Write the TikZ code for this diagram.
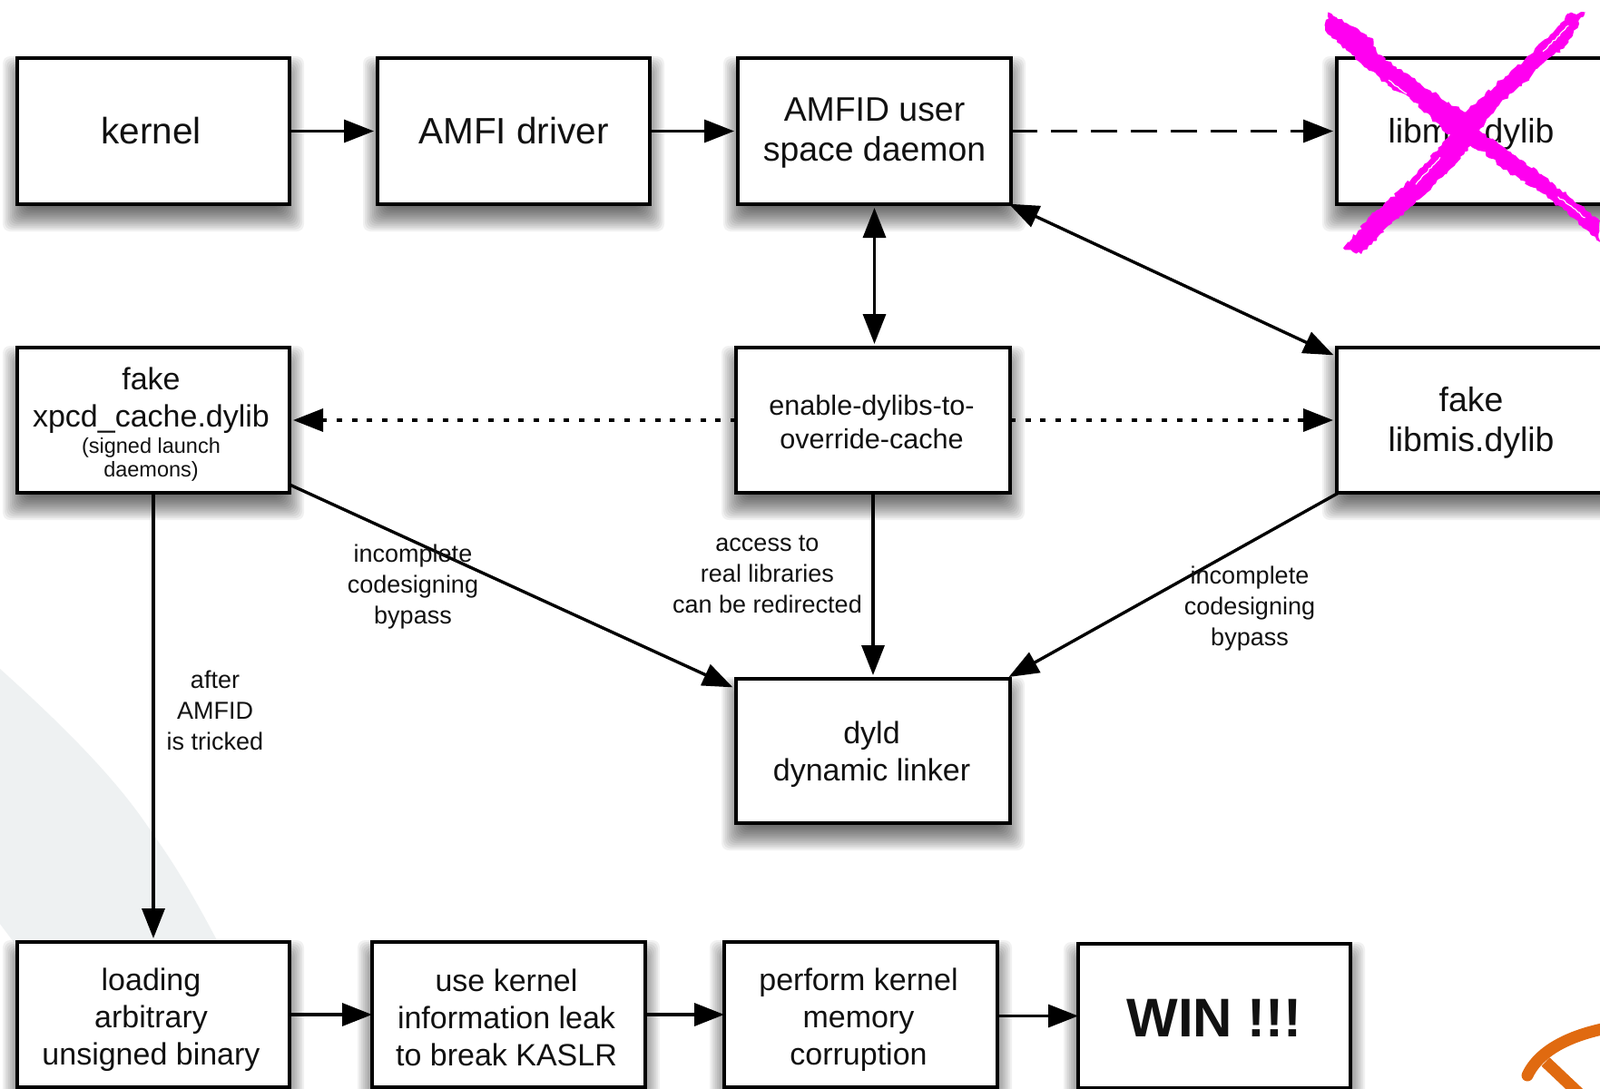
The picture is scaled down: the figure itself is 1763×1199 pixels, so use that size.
\documentclass[tikz,border=0pt]{standalone}
\usepackage{fontspec}
\setmainfont{Liberation Sans}
\usetikzlibrary{arrows.meta,calc,decorations.pathmorphing}
\definecolor{inkc}{HTML}{111111}
\definecolor{panelgrey}{HTML}{EEF1F2}
\definecolor{strokeorange}{HTML}{E06A10}
\definecolor{strokemagenta}{HTML}{FF00F0}
\tikzset{
  diag/.style={draw=black,fill=white,line width=3.3pt,inner sep=0pt,outer sep=0pt,align=center,text=inkc,anchor=center},
  huge/.style={font=\fontsize{40.5}{44}\selectfont},
  big/.style={font=\fontsize{37.4}{44}\selectfont},
  bigtight/.style={font=\fontsize{34}{41}\selectfont},
  mid/.style={font=\fontsize{30.6}{37}\selectfont},
  lbl/.style={font=\fontsize{27}{34}\selectfont,align=center,text=inkc,inner sep=0pt},
  conn/.style={draw=black,line width=3.4pt,-{Stealth[inset=0pt,length=33pt,width=25pt]},shorten >=4pt},
  bothconn/.style={conn,{Stealth[inset=0pt,length=33pt,width=25pt]}-{Stealth[inset=0pt,length=33pt,width=25pt]},shorten <=4pt},
  dashconn/.style={conn,dash pattern=on 29pt off 15pt},
  dotconn/.style={conn,dash pattern=on 6pt off 10.7pt},
  rough/.style={fill=strokemagenta,decorate,decoration={random steps,segment length=3.5pt,amplitude=1.8pt}},
  speck/.style={draw=white,line width=1.1pt,decorate,decoration={random steps,segment length=3pt,amplitude=1pt}},
}
\newcommand{\softshadow}[4]{%
  \foreach \e in {16,14,...,-12}{%
    \fill[black,opacity=.055,rounded corners=8pt]
      ({#1-\e},{#2+14-\e}) rectangle ({#3+\e},{#4+14+\e});}}
\newcommand{\boxnode}[7][]{% style, name, x1,y1,x2,y2, text
  \softshadow{#3}{#4}{#5}{#6}%
  \pgfmathsetmacro{\bw}{#5-#3}\pgfmathsetmacro{\bh}{#6-#4}%
  \node[diag,#1,minimum width=\bw pt,minimum height=\bh pt] (#2) at ({(#3+#5)/2},{(#4+#6)/2}) {#7};}
\newcommand{\dn}[1]{\rule{0pt}{#1pt}}
\newcommand{\hs}[1]{\hspace*{-#1pt}}
\newcommand{\subt}{\fontsize{23.5}{26}\selectfont}
\begin{document}
\begin{tikzpicture}[x=1pt,y=-1pt]
\useasboundingbox (0,0) rectangle (1763,1199);
\fill[white] (0,0) rectangle (1763,1199);
% pale background shape
\fill[panelgrey] (0,737) .. controls (70,800) and (130,860) .. (167,917)
  .. controls (195,955) and (220,1000) .. (240,1038) -- (15,1038) -- (0,1018) -- cycle;
% boxes
\boxnode[huge]{kernel}{19}{64}{319}{225}{\hs{5}kernel}
\boxnode[huge]{amfi}{416}{64}{716}{225}{AMFI driver}
\boxnode[big]{amfid}{813}{64}{1114}{225}{\dn{30}AMFID user\\space daemon}
\boxnode[big]{libmis}{1473}{64}{1783}{225}{\hs{14}\dn{34}libmis.dylib}
\boxnode[bigtight]{xpcd}{19}{383}{319}{543}{\hs{5}\dn{34}fake\\\hs{5}xpcd\_cache.dylib\\[-12.5pt]\hs{5}\subt (signed launch\\[-15pt]\hs{5}\subt daemons)}
\boxnode[mid]{enable}{811}{383}{1113}{543}{\hs{3}\dn{26}enable-dylibs-to-\\\hs{3}override-cache}
\boxnode[big]{fake}{1473}{383}{1783}{543}{\hs{14}\dn{32}fake\\\hs{14}libmis.dylib}
\boxnode[bigtight]{dyld}{811}{748}{1113}{907}{\hs{3}\dn{33}dyld\\\hs{3}dynamic linker}
\boxnode[bigtight]{loading}{19}{1038}{319}{1198}{\hs{5}\dn{37}loading\\\hs{5}arbitrary\\\hs{5}unsigned binary}
\boxnode[bigtight]{leak}{410}{1038}{711}{1198}{\hs{5}\dn{30.5}use kernel\\\hs{5}information leak\\\hs{5}to break KASLR}
\boxnode[bigtight]{corrupt}{798}{1038}{1099}{1198}{\hs{5}\dn{37}perform kernel\\\hs{5}memory\\\hs{5}corruption}
\boxnode[font=\fontsize{60}{66}\selectfont\bfseries]{win}{1188}{1040}{1488}{1199}{\dn{46}WIN !!!}
% connectors
\draw[conn] (kernel.east) -- (amfi.west);
\draw[conn] (amfi.east) -- (amfid.west);
\draw[dashconn] (amfid.east) -- (libmis.west);
\draw[bothconn] (amfid.south) -- (amfid.south |- enable.north);
\draw[bothconn] ($(amfid.south east)+(-6,-2)$) -- ($(fake.north west)+(0,10)$);
\draw[dotconn] (enable.west) -- (xpcd.east);
\draw[dotconn] (enable.east) -- (fake.west);
\draw[conn] (enable.south) -- (enable.south |- dyld.north);
\draw[conn] ($(xpcd.south east)+(0,-9)$) -- ($(dyld.north west)+(0,11)$);
\draw[conn] ($(fake.south west)+(2,0)$) -- ($(dyld.north east)+(-5,0)$);
\draw[conn] (xpcd.south) -- (loading.north);
\draw[conn,shorten >=0pt] (loading.east) -- (leak.west);
\draw[conn,shorten >=0pt] (leak.east) -- (corrupt.west);
\draw[conn,shorten >=0pt] (corrupt.east |- win.west) -- (win.west);
% edge labels
\node[lbl] (l1) at (455,647) {incomplete\\codesigning\\bypass};
\node[lbl] (l2) at (845.5,633) {access to\\real libraries\\can be redirected};
\node[lbl] (l3) at (1377,671) {incomplete\\codesigning\\bypass};
\node[lbl] (l4) at (237,783) {after\\AMFID\\is tricked};
% magenta cross
\begin{scope}[shift={(1400,0)},x=0.3333pt,y=-0.3333pt]
\fill[rough] (190,40) -- (340,130) -- (350,170) -- (440,240) -- (530,300) -- (640,370) -- (700,440) -- (800,510) -- (900,580) -- (1000,660) -- (1089,730) -- (1089,800) -- (1000,720) -- (900,640) -- (800,580) -- (700,500) -- (640,480) -- (560,420) -- (480,340) -- (400,290) -- (300,210) -- (220,140) -- (180,100) -- cycle;
\fill[rough] (1040,40) -- (970,160) -- (900,210) -- (830,285) -- (760,340) -- (690,430) -- (640,510) -- (560,590) -- (470,680) -- (400,740) -- (300,840) -- (240,820) -- (350,695) -- (440,620) -- (510,540) -- (580,460) -- (650,365) -- (760,265) -- (860,180) -- (985,45) -- cycle;
\draw[speck] (985,85) -- (900,170);
\draw[speck] (560,520) -- (480,610);
\draw[speck] (950,650) -- (1040,720);
\draw[speck] (390,265) -- (450,310);
\end{scope}
% orange scribble
\draw[strokeorange,line width=13pt,line cap=round] (1770,1133) .. controls (1735,1140) and (1697,1155) .. (1683,1185);
\draw[strokeorange,line width=13pt] (1703,1170) -- (1740,1205);
\end{tikzpicture}
\end{document}
